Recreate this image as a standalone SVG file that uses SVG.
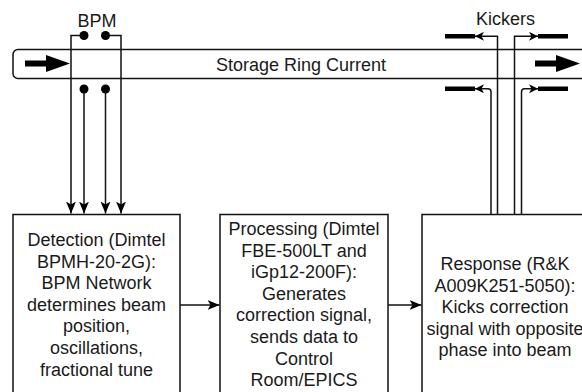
<svg xmlns="http://www.w3.org/2000/svg" width="582" height="392" viewBox="0 0 582 392">
<defs>
<style>
.ln{fill:none;stroke:#111;stroke-width:1.5}
.bx{fill:#fff;stroke:#111;stroke-width:1.5}
.t{font-family:"Liberation Sans",Arial,sans-serif;font-size:18px;fill:#1a1a1a;text-anchor:middle}
.blk{fill:#000}
</style>
<marker id="ah" markerWidth="12" markerHeight="10" refX="12" refY="5" orient="auto" markerUnits="userSpaceOnUse">
<path d="M0,0 L12,5 L0,10 L3,5 Z" fill="#000"/>
</marker>
<marker id="ak" markerWidth="9" markerHeight="9" refX="9" refY="4.5" orient="auto" markerUnits="userSpaceOnUse">
<path d="M0,0 L9,4.5 L0,9 L2.5,4.5 Z" fill="#000"/>
</marker>
</defs>
<rect width="582" height="392" fill="#fff"/>

<g id="ring">
<rect class="bx" x="13" y="49.5" width="600" height="29" rx="5"/>
<polygon class="blk" points="25,60.5 46,60.5 46,55 70,63.5 46,72 46,66.5 25,66.5"/>
<polygon class="blk" points="535,60.5 556,60.5 556,55 580,63.5 556,72 556,66.5 535,66.5"/>
<text class="t" x="301" y="70.5">Storage Ring Current</text>
</g>

<g id="bpm">
<text class="t" x="97" y="27">BPM</text>
<circle class="blk" cx="84" cy="35.5" r="4.5"/>
<circle class="blk" cx="105.5" cy="35.5" r="4.5"/>
<circle class="blk" cx="84" cy="89" r="4.5"/>
<circle class="blk" cx="105.5" cy="89" r="4.5"/>
</g>

<g id="kickers">
<text class="t" x="505.5" y="25">Kickers</text>
<rect class="blk" x="445" y="34" width="30" height="4.5"/>
<rect class="blk" x="538" y="34" width="30" height="4.5"/>
<rect class="blk" x="445" y="86.5" width="30" height="4.5"/>
<rect class="blk" x="538" y="86.5" width="30" height="4.5"/>
</g>

<g id="detection">
<rect class="bx" x="13" y="214.5" width="167" height="190"/>
<text class="t" x="96.5" y="246">Detection (Dimtel</text>
<text class="t" x="96.5" y="267.6">BPMH-20-2G):</text>
<text class="t" x="96.5" y="289.2">BPM Network</text>
<text class="t" x="96.5" y="310.8">determines beam</text>
<text class="t" x="96.5" y="332.4">position,</text>
<text class="t" x="96.5" y="354">oscillations,</text>
<text class="t" x="96.5" y="375.6">fractional tune</text>
</g>

<g id="processing">
<rect class="bx" x="220" y="214.5" width="168" height="190"/>
<text class="t" x="304" y="235">Processing (Dimtel</text>
<text class="t" x="304" y="256.6">FBE-500LT and</text>
<text class="t" x="304" y="278.2">iGp12-200F):</text>
<text class="t" x="304" y="299.8">Generates</text>
<text class="t" x="304" y="321.4">correction signal,</text>
<text class="t" x="304" y="343">sends data to</text>
<text class="t" x="304" y="364.6">Control</text>
<text class="t" x="304" y="386.2">Room/EPICS</text>
</g>

<g id="response">
<rect class="bx" x="422" y="214.5" width="180" height="190"/>
<text class="t" x="505" y="270">Response (R&amp;K</text>
<text class="t" x="505" y="291.6">A009K251-5050):</text>
<text class="t" x="505" y="313.2">Kicks correction</text>
<text class="t" x="505" y="334.8">signal with opposite</text>
<text class="t" x="505" y="356.4">phase into beam</text>
</g>

<g id="connectors">
<path class="ln" d="M84,35.5 H71 V213.5" marker-end="url(#ah)"/>
<path class="ln" d="M105.5,35.5 H121 V213.5" marker-end="url(#ah)"/>
<path class="ln" d="M84,89 V213.5" marker-end="url(#ah)"/>
<path class="ln" d="M105.5,89 V213.5" marker-end="url(#ah)"/>
<path class="ln" d="M180,305 H219.5" marker-end="url(#ah)"/>
<path class="ln" d="M388,305 H421.5" marker-end="url(#ah)"/>
<path class="ln" d="M497.5,214.5 V36.3 H475" marker-end="url(#ak)"/>
<path class="ln" d="M514.5,214.5 V36.3 H538" marker-end="url(#ak)"/>
<path class="ln" d="M491,214.5 V92 Q491,88.8 488,88.8 H475" marker-end="url(#ak)"/>
<path class="ln" d="M521.5,214.5 V92 Q521.5,88.8 524.5,88.8 H538" marker-end="url(#ak)"/>
</g>
</svg>
